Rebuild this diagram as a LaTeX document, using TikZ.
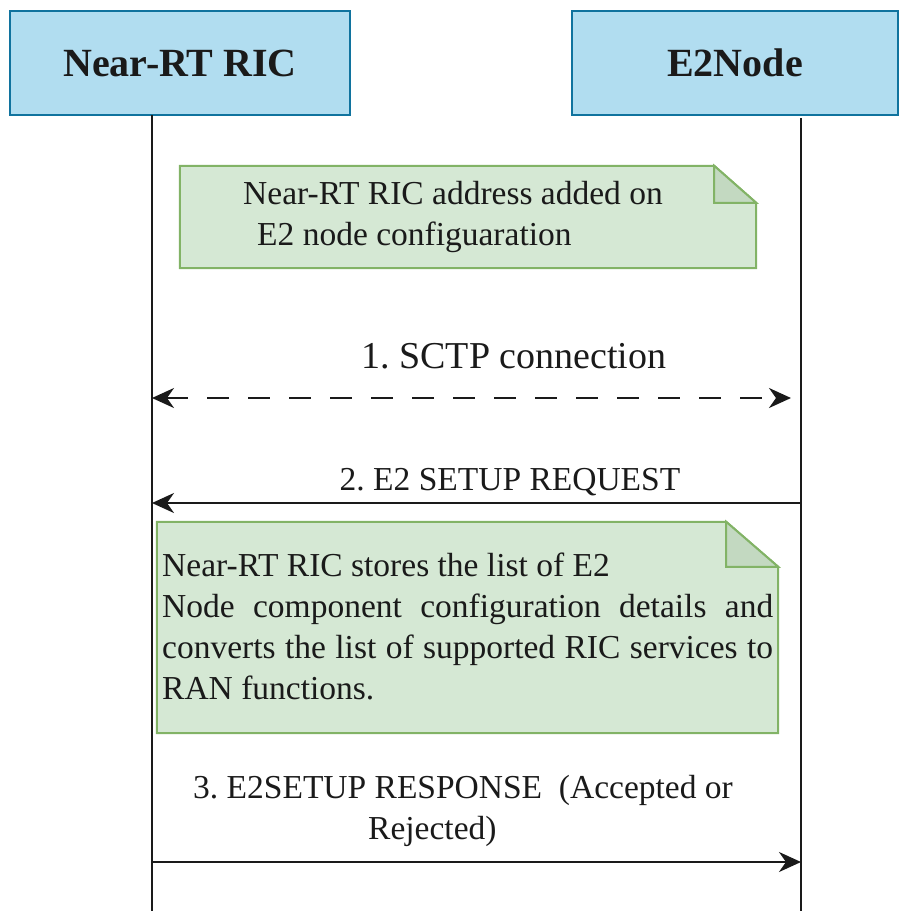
\documentclass[tikz,border=0pt]{standalone}
\usepackage{fontspec}
\setmainfont{Liberation Serif}
\usetikzlibrary{arrows.meta,calc}
\frenchspacing

\definecolor{hdrfill}{HTML}{B1DDF0}
\definecolor{hdrline}{HTML}{10739E}
\definecolor{notefill}{HTML}{D5E8D4}
\definecolor{notefold}{HTML}{C3D9C1}
\definecolor{noteline}{HTML}{82B366}
\definecolor{ink}{HTML}{1A1A1A}

\tikzset{
  hdr/.style={draw=hdrline, fill=hdrfill, line width=2pt, text=ink,
    font=\fontsize{40}{46}\selectfont\bfseries, inner sep=0pt},
  lifeline/.style={draw=ink, line width=2pt},
  tip/.tip={Stealth[length=22pt,width=20pt,inset=7pt]},
  msg/.style={draw=ink, line width=2.3pt, -tip},
  msgboth/.style={msg, tip-tip, dash pattern=on 22pt off 19pt},
  lbl/.style={text=ink, font=\fontsize{33.5}{41}\selectfont, inner sep=0pt},
  notearea/.style={inner sep=0pt},
  noteedge/.style={draw=noteline, fill=notefill, line width=2pt},
  foldedge/.style={draw=noteline, fill=notefold, line width=2pt, line join=miter},
}

\begin{document}
\begin{tikzpicture}[x=1pt,y=-1pt]
\useasboundingbox (0,0) rectangle (899,911);

% participants
\node[hdr, minimum width=340pt, minimum height=104pt] (ric) at (180,63) {Near-RT RIC};
\node[hdr, minimum width=326pt, minimum height=104pt] (e2n) at (735,63) {E2Node};

% lifelines
\coordinate (ricTop) at (152,115);
\coordinate (ricEnd) at (152,911);
\coordinate (e2Top)  at (801,118);
\coordinate (e2End)  at (801,911);
\draw[lifeline] (ricTop) -- (ricEnd);
\draw[lifeline] (e2Top) -- (e2End);

% note: address configured
\node[notearea, minimum width=576pt, minimum height=102pt] (noteA) at (468,217) {};
\path[noteedge] (noteA.north west) -- ($(noteA.north east)+(-42,0)$)
  -- ($(noteA.north east)+(0,37)$) -- (noteA.south east) -- (noteA.south west) -- cycle;
\path[foldedge] ($(noteA.north east)+(-42,0)$) -- ($(noteA.north east)+(-42,37)$)
  -- ($(noteA.north east)+(0,37)$) -- cycle;
\node[lbl, align=left, anchor=north west] (noteAtxt) at (243,181)
  {Near-RT RIC address added on\\\hspace*{14pt}E2 node configuaration};

% 1. SCTP connection
\coordinate (s1L) at (152,398);
\coordinate (s1R) at (791,398);
\draw[msgboth] (s1L) -- (s1R);
\node[lbl, font=\fontsize{38}{44}\selectfont] (s1lbl) at (514,356) {1. SCTP connection};

% 2. E2 SETUP REQUEST
\coordinate (s2R) at (801,503);
\coordinate (s2L) at (152,503);
\draw[msg] (s2R) -- (s2L);
\node[lbl] (s2lbl) at (510,482) {2. E2 SETUP REQUEST};

% note: stored configuration
\node[notearea, minimum width=621pt, minimum height=211pt] (noteB) at (467.5,627.5) {};
\path[noteedge] (noteB.north west) -- ($(noteB.north east)+(-52,0)$)
  -- ($(noteB.north east)+(0,45)$) -- (noteB.south east) -- (noteB.south west) -- cycle;
\path[foldedge] ($(noteB.north east)+(-52,0)$) -- ($(noteB.north east)+(-52,45)$)
  -- ($(noteB.north east)+(0,45)$) -- cycle;
\node[lbl, align=left, anchor=north west] (noteBtxt) at (162,553)
  {Near-RT RIC stores the list of E2\\
   \makebox[611pt][s]{Node component configuration details and}\\
   \makebox[611pt][s]{converts the list of supported RIC services to}\\
   RAN functions.};

% 3. E2SETUP RESPONSE
\coordinate (s3L) at (152,862);
\coordinate (s3R) at (801,862);
\draw[msg] (s3L) -- (s3R);
\node[lbl, align=left, anchor=north west] (s3lbl) at (193,775)
  {3. E2SETUP RESPONSE\ \ (Accepted or\\\hspace*{175pt}Rejected)};
\end{tikzpicture}
\end{document}
